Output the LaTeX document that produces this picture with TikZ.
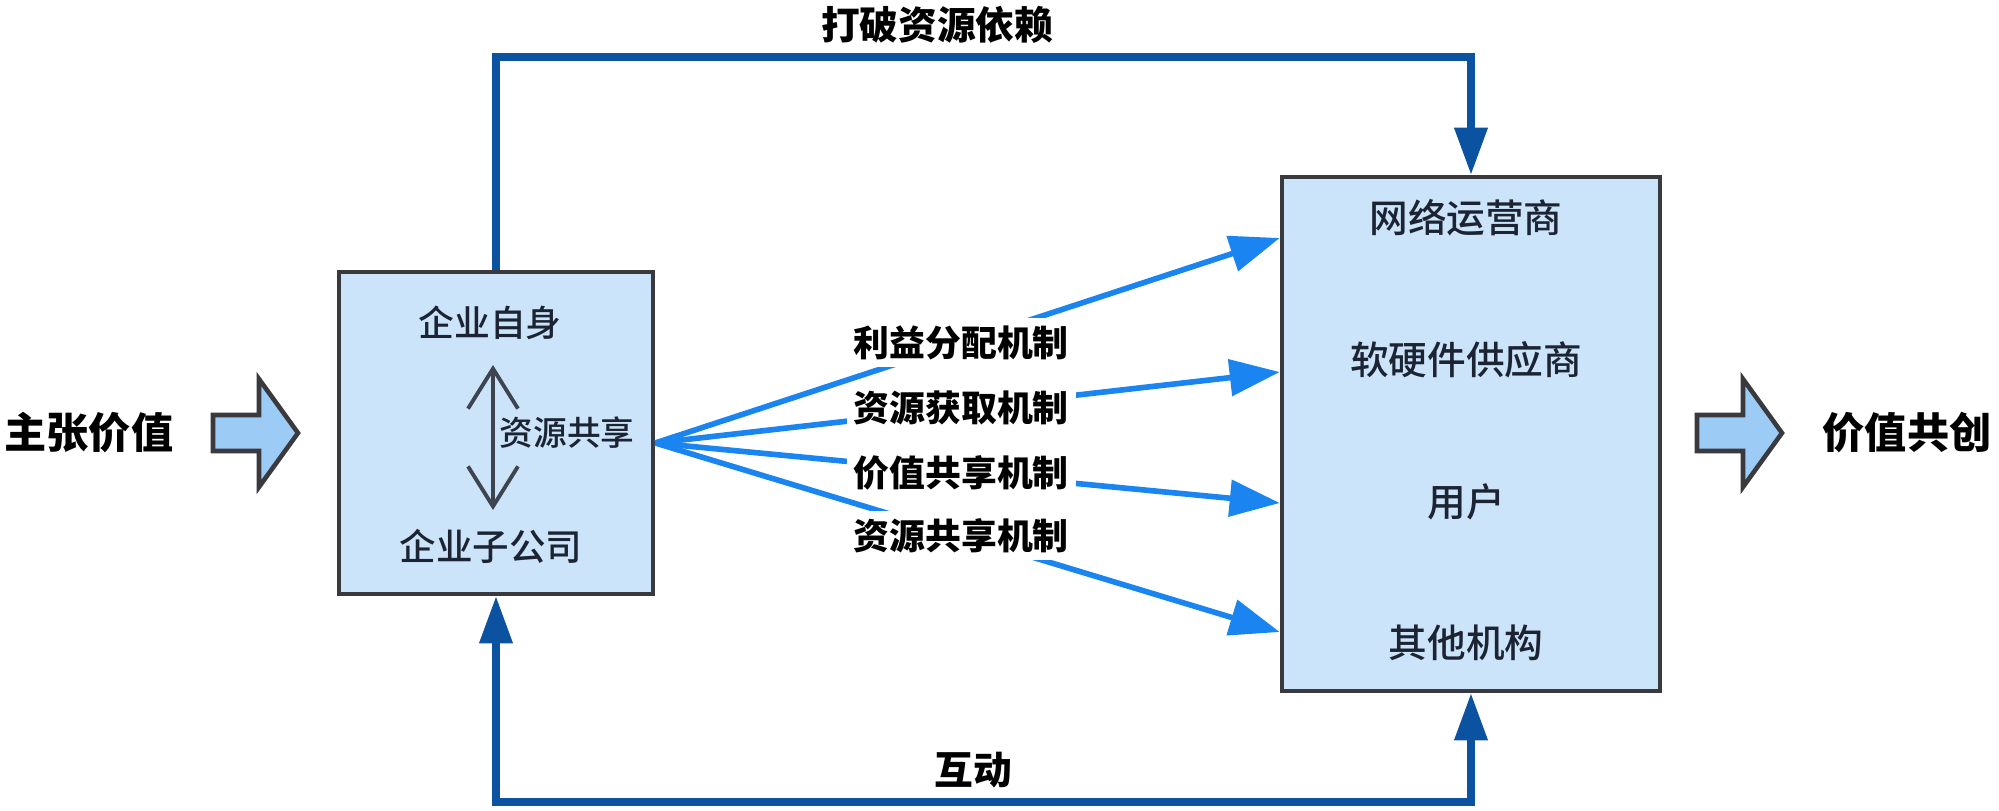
\documentclass[tikz,border=0pt]{standalone}
\usepackage{fontspec}
\setmainfont{Noto Sans CJK SC}
\IfFontExistsTF{Noto Sans CJK SC Black}
  {\newfontfamily\heavyfont{Noto Sans CJK SC Black}}
  {\newfontfamily\heavyfontbase{Noto Sans CJK SC}[FakeBold=1.6]
   \newcommand\heavyfont{\heavyfontbase\bfseries}}
\IfFontExistsTF{Noto Sans CJK SC Medium}
  {\newfontfamily\medfont{Noto Sans CJK SC Medium}}
  {\newfontfamily\medfont{Noto Sans CJK SC}[FakeBold=0.7]}
\usetikzlibrary{arrows.meta}

\definecolor{boxfill}{RGB}{204,228,250}
\definecolor{boxline}{RGB}{58,58,62}
\definecolor{blockfill}{RGB}{156,203,246}
\definecolor{loopblue}{RGB}{11,82,160}
\definecolor{fanblue}{RGB}{26,133,240}
\definecolor{textnavy}{RGB}{28,36,52}
\definecolor{sharegray}{RGB}{62,68,80}

\tikzset{
  groupbox/.style={draw=boxline, line width=1.3pt, fill=boxfill, inner sep=0pt},
  member/.style={text=textnavy, font=\medfont\fontsize{#1}{#1}\selectfont, inner sep=1pt},
  member/.default=11pt,
  loopline/.style={draw=loopblue, line width=2pt},
  looptip/.tip={Triangle[length=0.47cm,width=0.32cm]},
  fanarrow/.style={draw=fanblue, line width=1.6pt, -{Triangle[length=0.5cm,width=0.36cm]}},
  mechlabel/.style={fill=white, font=\bfseries\fontsize{10.2pt}{10.2pt}\selectfont,
    inner sep=2pt, pos=0.49},
  biglabel/.style={font=\heavyfont\fontsize{#1}{#1}\selectfont},
  biglabel/.default=11pt
}

\begin{document}
\begin{tikzpicture}
  \def\ay{3.77} % height of the main axis
  \def\dx{14.66} % column of the partner names
  \useasboundingbox (0,0) rectangle (19.99,8.10);

  % Boxes
  \node[groupbox, minimum width=3.14cm, minimum height=3.22cm] (firm) at (4.96,\ay) {};
  \node[groupbox, minimum width=3.78cm, minimum height=5.14cm] (partners) at (14.71,3.76) {};

  % Inside the firm
  \node[member=10.2pt] (self) at (4.90,4.87) {企业自身};
  \node[member=10.4pt] (sub) at (4.91,2.64) {企业子公司};
  \draw[sharegray, line width=1.1pt,
    {Straight Barb[length=0.4cm,width=0.5cm]}-{Straight Barb[length=0.4cm,width=0.5cm]}]
    ([xshift=0.03cm,yshift=-0.42cm]self.center) -- ([xshift=0.02cm,yshift=0.36cm]sub.center);
  \node[member=9.6pt] (share) at (5.67,\ay) {资源共享};

  % Partners
  \foreach \name/\txt [count=\i] in {net/网络运营商, soft/软硬件供应商, user/用户, other/其他机构}
    {\node[member] (\name) at (\dx,{5.92-(\i-1)*1.417}) {\txt};}

  % Fan of mechanisms
  \coordinate (hub) at ([yshift=-0.1cm]firm.east);
  \foreach \y/\txt [count=\i] in {5.72/利益分配机制, 4.38/资源获取机制, 3.07/价值共享机制, 1.78/资源共享机制}
    {\draw[fanarrow] (hub) -- (partners.west |- 0,\y) node[mechlabel] (mech\i) {\txt};}

  % Loops
  \draw[loopline, -looptip] (firm.north) -- (firm.north |- 0,7.53) -| (partners.north);
  \draw[loopline, looptip-looptip] (firm.south) -- (firm.south |- 0,0.08) -| (partners.south);
  \node[biglabel] (breakdep) at (9.37,7.85) {打破资源依赖};
  \node[biglabel] (interact) at (9.73,0.40) {互动};

  % Block arrows
  \foreach \x in {2.13,16.97}
    {\draw[boxline, line width=1.3pt, fill=blockfill, line join=miter]
      (\x,\ay-0.18) -- ++(0.46,0) -- ++(0,-0.36) -- ++(0.39,0.54)
      -- ++(-0.39,0.54) -- ++(0,-0.36) -- ++(-0.46,0) -- cycle;}
  \node[biglabel=12pt] (claim) at (0.89,\ay) {主张价值};
  \node[biglabel=12pt] (cocreate) at (19.07,\ay) {价值共创};
\end{tikzpicture}
\end{document}
